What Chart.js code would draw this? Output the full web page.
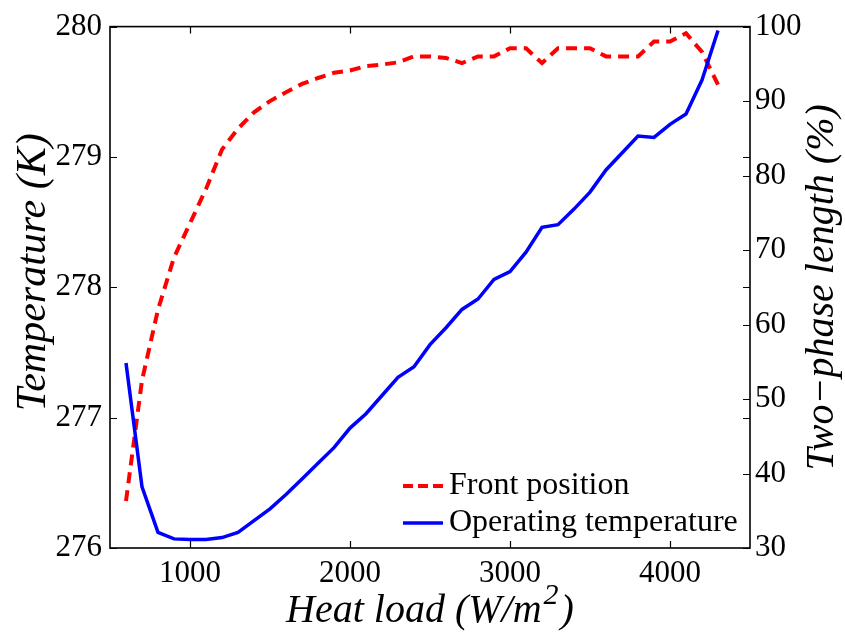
<!DOCTYPE html>
<html>
<head>
<meta charset="utf-8">
<script src="https://cdn.jsdelivr.net/npm/chart.js@4.4.1/dist/chart.umd.min.js"></script>
<style>
body { margin: 0; background: #fff; }
</style>
</head>
<body>
<canvas id="heatChart" width="845" height="633"></canvas>
<script>
var heatLoad = [600, 700, 800, 900, 1000, 1100, 1200, 1300, 1400, 1500, 1600, 1700, 1800, 1900,
    2000, 2100, 2200, 2300, 2400, 2500, 2600, 2700, 2800, 2900, 3000, 3100, 3200, 3300, 3400,
    3500, 3600, 3700, 3800, 3900, 4000, 4100, 4200, 4300];
var frontPosition = [36.3, 52.5, 62.0, 69.0, 73.6, 78.2, 83.5, 86.3, 88.5, 90.0, 91.2, 92.3, 93.1, 93.8,
    94.1, 94.7, 94.9, 95.2, 96.0, 96.0, 95.8, 95.1, 96.0, 96.0, 97.1, 97.1, 95.1, 97.1, 97.1,
    97.1, 96.0, 96.0, 96.0, 98.0, 98.0, 99.1, 96.6, 92.2];
var operatingTemp = [277.42, 276.47, 276.12, 276.07, 276.065, 276.065, 276.08, 276.12, 276.21, 276.30,
    276.41, 276.53, 276.65, 276.77, 276.92, 277.03, 277.17, 277.31, 277.39, 277.56, 277.69, 277.83,
    277.91, 278.06, 278.12, 278.27, 278.46, 278.48, 278.60, 278.73, 278.90, 279.03, 279.16, 279.15,
    279.25, 279.33, 279.59, 279.97];
var heatTicks = [1000, 2000, 3000, 4000];
var tempTicks = [276, 277, 278, 279, 280];
var lengthTicks = [30, 40, 50, 60, 70, 80, 90, 100];

var serif = '"Liberation Serif", "Times New Roman", serif';

function toPoints(xs, ys) {
    return xs.map(function(x, i) { return { x: x, y: ys[i] }; });
}

function fixedTicks(values) {
    return function(scale) {
        scale.ticks = values.map(function(v) { return { value: v }; });
    };
}

// box, inward tick marks, axis titles and the legend inside the plot
var framePlugin = {
    id: 'frame',
    afterDraw: function(chart) {
        var ctx = chart.ctx;
        var a = chart.chartArea;
        var s = chart.scales;
        var len = 7;
        ctx.save();
        ctx.strokeStyle = '#000';
        ctx.lineWidth = 1.2;
        ctx.beginPath();
        s.x.ticks.forEach(function(t) {
            var px = Math.round(s.x.getPixelForValue(t.value)) + 0.5;
            ctx.moveTo(px, a.bottom); ctx.lineTo(px, a.bottom - len);
            ctx.moveTo(px, a.top); ctx.lineTo(px, a.top + len);
        });
        s.y.ticks.forEach(function(t) {
            var py = Math.round(s.y.getPixelForValue(t.value)) + 0.5;
            ctx.moveTo(a.left, py); ctx.lineTo(a.left + len, py);
            ctx.moveTo(a.right, py); ctx.lineTo(a.right - len, py);
        });
        s.y1.ticks.forEach(function(t) {
            var py = Math.round(s.y1.getPixelForValue(t.value)) + 0.5;
            ctx.moveTo(a.right, py); ctx.lineTo(a.right - len, py);
        });
        ctx.stroke();
        ctx.lineWidth = 1.6;
        ctx.strokeRect(a.left, a.top, a.right - a.left, a.bottom - a.top);

        ctx.fillStyle = '#000';
        var titleFont = 'italic 40px ' + serif;

        // x title with a real superscript
        ctx.font = titleFont;
        ctx.textBaseline = 'alphabetic';
        var p1 = 'Heat load (W/m', p2 = '2', p3 = ')';
        var w1 = ctx.measureText(p1).width;
        var w3 = ctx.measureText(p3).width;
        ctx.font = 'italic 30px ' + serif;
        var w2 = ctx.measureText(p2).width;
        var tx = (a.left + a.right) / 2 - (w1 + w2 + w3 + 4) / 2;
        var ty = a.bottom + 74;
        ctx.font = titleFont;
        ctx.fillText(p1, tx, ty);
        ctx.font = 'italic 30px ' + serif;
        ctx.fillText(p2, tx + w1 + 2, ty - 18);
        ctx.font = titleFont;
        ctx.fillText(p3, tx + w1 + w2 + 4, ty);

        // vertical titles, both reading upwards
        ctx.textAlign = 'center';
        ctx.textBaseline = 'middle';
        [[a.left - 76, (a.top + a.bottom) / 2 - 15, 'Temperature (K)', 42],
         [a.right + 72, (a.top + a.bottom) / 2, 'Two\u2212phase length (%)', 40]].forEach(function(t) {
            ctx.save();
            ctx.font = 'italic ' + t[3] + 'px ' + serif;
            ctx.translate(t[0], t[1]);
            ctx.rotate(-Math.PI / 2);
            ctx.fillText(t[2], 0, 0);
            ctx.restore();
        });

        // legend
        var rows = [chart.data.datasets[0], chart.data.datasets[1]];
        var lx = a.right - 347, ly = a.bottom - 62;
        ctx.font = '32px ' + serif;
        ctx.textAlign = 'left';
        ctx.textBaseline = 'middle';
        rows.forEach(function(ds, i) {
            var y = ly + i * 37;
            ctx.beginPath();
            ctx.strokeStyle = ds.borderColor;
            ctx.lineWidth = ds.borderWidth;
            ctx.setLineDash(i === 0 ? [10, 5] : []);
            ctx.moveTo(lx, y); ctx.lineTo(lx + 40, y);
            ctx.stroke();
            ctx.setLineDash([]);
            ctx.fillText(ds.label, lx + 46, y);
        });
        ctx.restore();
    }
};

var ctx = document.getElementById('heatChart').getContext('2d');
var heatChart = new Chart(ctx, {
    type: 'line',
    data: {
        datasets: [{
            label: 'Front position',
            data: toPoints(heatLoad, frontPosition),
            yAxisID: 'y1',
            borderColor: '#ff0000',
            borderWidth: 4,
            borderDash: [11, 7],
            pointRadius: 0,
            tension: 0,
            order: 2
        }, {
            label: 'Operating temperature',
            data: toPoints(heatLoad, operatingTemp),
            yAxisID: 'y',
            borderColor: '#0000ff',
            borderWidth: 3.5,
            pointRadius: 0,
            tension: 0,
            order: 1
        }]
    },
    options: {
        responsive: false,
        animation: false,
        events: [],
        layout: { padding: { top: 23 } },
        plugins: {
            legend: { display: false },
            tooltip: { enabled: false }
        },
        scales: {
            x: {
                type: 'linear',
                min: 500,
                max: 4500,
                afterBuildTicks: fixedTicks(heatTicks),
                afterFit: function(scale) { scale.height = 85; },
                grid: { display: false, drawTicks: false },
                border: { display: false },
                ticks: {
                    color: '#000',
                    padding: 7,
                    maxRotation: 0,
                    callback: function(v) { return String(v); },
                    font: { family: serif, size: 31 }
                }
            },
            y: {
                position: 'left',
                min: 276,
                max: 280,
                afterBuildTicks: fixedTicks(tempTicks),
                afterFit: function(scale) { scale.width = 110; },
                grid: { display: false, drawTicks: false },
                border: { display: false },
                ticks: {
                    color: '#000',
                    padding: 8,
                    callback: function(v) { return String(v); },
                    font: { family: serif, size: 31 }
                }
            },
            y1: {
                position: 'right',
                min: 30,
                max: 100,
                afterBuildTicks: fixedTicks(lengthTicks),
                afterFit: function(scale) { scale.width = 95; },
                grid: { display: false, drawTicks: false },
                border: { display: false },
                ticks: {
                    color: '#000',
                    padding: 5,
                    font: { family: serif, size: 31 }
                }
            }
        }
    },
    plugins: [framePlugin]
});
</script>
</body>
</html>
